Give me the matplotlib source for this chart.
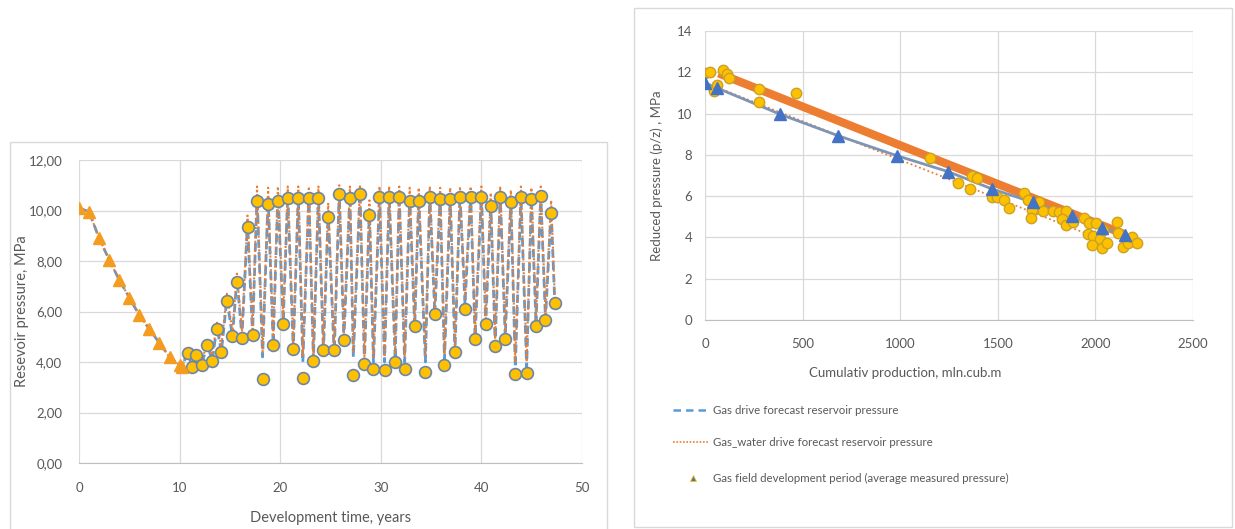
import matplotlib.pyplot as plt
from matplotlib.lines import Line2D
from matplotlib.patches import Rectangle
from matplotlib.ticker import FuncFormatter

plt.rcParams["font.family"] = ["Lato", "DejaVu Sans"]

# ## Data

# left chart: gas field development period (average measured pressure)
dev_years = [0, 1, 2, 3, 4, 5, 6, 7, 8, 9, 10, 10.25]
dev_pressure = [10.1, 9.95, 8.9, 8.05, 7.25, 6.55, 5.85, 5.3, 4.75, 4.2, 3.9, 3.8]

# left chart: measured pressure during storage operation
ugs_years = [
    10.8, 11.2, 11.6, 12.2, 12.75, 13.25, 13.7, 14.15, 14.7, 15.25, 15.7, 16.2,
    16.75, 17.25, 17.7, 18.25, 18.8, 19.3, 19.77, 20.3, 20.75, 21.3, 21.8,
    22.25, 22.85, 23.3, 23.8, 24.3, 24.77, 25.37, 25.87, 26.33, 26.93, 27.27,
    27.93, 28.37, 28.87, 29.27, 29.87, 30.37, 30.83, 31.43, 31.83, 32.37,
    32.87, 33.37, 33.77, 34.43, 34.87, 35.37, 35.9, 36.33, 36.9, 37.37, 37.87,
    38.37, 38.93, 39.37, 40.0, 40.43, 40.93, 41.37, 41.87, 42.37, 42.93,
    43.37, 43.93, 44.5, 44.97, 45.43, 45.9, 46.37, 46.93, 47.3,
]
ugs_pressure = [
    4.37, 3.80, 4.27, 3.87, 4.67, 4.03, 5.31, 4.41, 6.40, 5.02, 7.15, 4.97,
    9.33, 5.07, 10.37, 3.33, 10.24, 4.67, 10.37, 5.52, 10.50, 4.52, 10.50,
    3.38, 10.50, 4.03, 10.50, 4.47, 9.73, 4.47, 10.65, 4.89, 10.48, 3.48,
    10.64, 3.94, 9.82, 3.74, 10.55, 3.70, 10.55, 4.00, 10.55, 3.74,
    10.39, 5.42, 10.39, 3.60, 10.52, 5.89, 10.44, 3.90, 10.44, 4.40, 10.52,
    6.08, 10.52, 4.93, 10.52, 5.52, 10.18, 4.62, 10.52, 4.93, 10.33,
    3.54, 10.52, 3.58, 10.47, 5.43, 10.57, 5.66, 9.89, 6.32,
]

# left chart: forecast curves (same time steps as above)
forecast_years = dev_years + ugs_years
gas_drive = dev_pressure + [
    4.4, 3.85, 4.3, 3.9, 4.7, 4.05, 5.4, 4.4, 6.5, 5.0, 7.3, 5.0,
    9.5, 5.1, 10.6, 4.2, 10.5, 4.7, 10.6, 5.6, 10.6, 4.5, 10.6,
    4.0, 10.6, 4.1, 10.6, 4.4, 9.9, 4.3, 10.7, 4.9, 10.6, 4.2,
    10.7, 4.0, 10.0, 4.0, 10.6, 4.0, 10.6, 4.1, 10.6, 4.0,
    10.5, 5.4, 10.5, 4.0, 10.6, 5.9, 10.5, 4.1, 10.5, 4.4, 10.6,
    6.3, 10.6, 5.0, 10.6, 5.5, 10.3, 4.7, 10.6, 5.0, 10.4,
    3.8, 10.6, 3.8, 10.5, 5.5, 10.6, 5.7, 10.0, 6.3,
]
gas_water_drive = dev_pressure + [
    4.5, 4.0, 4.4, 4.0, 4.8, 4.2, 5.6, 4.6, 6.7, 5.2, 7.5, 5.2,
    9.8, 5.3, 10.95, 4.4, 10.9, 4.9, 10.95, 5.8, 10.95, 4.7, 10.95,
    4.2, 10.95, 4.3, 10.95, 4.6, 10.3, 4.5, 11.0, 5.1, 10.95, 4.4,
    11.0, 4.2, 10.4, 4.2, 10.95, 4.2, 10.95, 4.3, 10.95, 4.2,
    10.9, 5.6, 10.9, 4.2, 10.95, 6.1, 10.9, 4.3, 10.9, 4.6, 10.95,
    6.5, 10.95, 5.2, 10.95, 5.7, 10.7, 4.9, 10.95, 5.2, 10.8,
    4.0, 10.95, 4.0, 10.9, 5.7, 10.95, 5.9, 10.4, 6.5,
]

# right chart: p/z against cumulative production
dev_cum = [0, 61, 384, 681, 983, 1245, 1470, 1680, 1880, 2034, 2152]
dev_pz = [11.48, 11.24, 9.97, 8.93, 7.96, 7.19, 6.35, 5.7, 5.04, 4.44, 4.12]

ugs_cum = [
    0, 26, 47, 64, 90, 113, 124, 277, 277, 465, 1153, 1297, 1357, 1366, 1393,
    1470, 1497, 1532, 1555, 1635, 1655, 1675, 1670, 1711, 1731, 1781, 1814,
    1849, 1829, 1849, 1885, 1942, 1968, 2003, 1963, 1988, 2024, 1983, 2034,
    2058, 2110, 2118, 2142, 2167, 2187, 2213, 2039,
]
ugs_pz = [
    11.96, 12.0, 11.07, 11.4, 12.1, 11.9, 11.7, 11.2, 10.55, 11.0, 7.86, 6.62,
    6.33, 6.98, 6.87, 5.95, 5.95, 5.8, 5.42, 6.14, 5.8, 5.32, 4.93, 5.73, 5.3,
    5.3, 5.25, 5.3, 4.9, 4.6, 4.76, 4.93, 4.68, 4.7, 4.15, 4.07, 3.92, 3.63,
    3.5, 3.75, 4.76, 4.2, 3.53, 3.75, 4.03, 3.75, 4.36,
]

trend_cum = [70, 2150]
trend_pz = [11.95, 4.15]
water_cum = [0, 1990]
water_pz = [11.5, 4.05]

# ## Plot

GREY = "#595959"
GRID = "#d9d9d9"
GOLD = "#ffc000"
EDGE = "#6d86a6"
ORANGE = "#ed7d31"
BLUE = "#5b9bd5"

fig = plt.figure(figsize=(12.35, 5.29), dpi=100)

# chart frames
fig.patches.append(Rectangle((10 / 1235, -0.05), 597 / 1235, 1 - 142 / 529 + 0.05,
                             transform=fig.transFigure, fill=False,
                             edgecolor=GRID, linewidth=1))
fig.patches.append(Rectangle((634 / 1235, 2 / 529), 598 / 1235, 1 - 10 / 529,
                             transform=fig.transFigure, fill=False,
                             edgecolor=GRID, linewidth=1))

ax1 = fig.add_axes([79 / 1235, 1 - 463 / 529, 503 / 1235, 303 / 529])
ax2 = fig.add_axes([705 / 1235, 1 - 320 / 529, 488 / 1235, 289 / 529])

for ax in (ax1, ax2):
    ax.grid(True, color=GRID, linewidth=0.9)
    ax.set_axisbelow(True)
    for side in ("top", "right", "left"):
        ax.spines[side].set_visible(False)
    ax.spines["bottom"].set_color("#bfbfbf")
    ax.tick_params(length=0, colors=GREY, labelsize=9.5)

# left chart
ax1.plot(forecast_years, gas_drive, color=BLUE, linestyle=(0, (3, 1.5)),
         linewidth=2, zorder=2)
ax1.plot(forecast_years, gas_water_drive, color=ORANGE, linestyle=(0, (1, 1.2)),
         linewidth=1.5, zorder=2)
ax1.plot(ugs_years, ugs_pressure, linestyle="none", marker="o", markersize=8.5,
         markerfacecolor=GOLD, markeredgecolor=EDGE, markeredgewidth=1.2,
         zorder=3)
ax1.plot(dev_years, dev_pressure, linestyle="none", marker="^", markersize=8.5,
         markerfacecolor="#f39c1f", markeredgecolor="#f39c1f", zorder=3)

ax1.set_xlim(0, 50)
ax1.set_ylim(0, 12)
ax1.set_xticks(range(0, 51, 10))
ax1.set_yticks(range(0, 13, 2))
ax1.yaxis.set_major_formatter(FuncFormatter(lambda v, p: f"{v:.2f}".replace(".", ",")))
ax1.tick_params(axis="x", pad=14)
ax1.tick_params(axis="y", pad=12)
ax1.set_xlabel("Development time, years", color=GREY, fontsize=10.5)
ax1.set_ylabel("Resevoir pressure, MPa", color=GREY, fontsize=10.5)
ax1.xaxis.set_label_coords(0.5, (463 - 511) / 303, transform=ax1.transAxes)
ax1.yaxis.set_label_coords((29 - 79) / 503, 0.5, transform=ax1.transAxes)

# right chart
ax2.plot(trend_cum, trend_pz, color=ORANGE, linewidth=6, solid_capstyle="butt",
         zorder=2)
ax2.plot(water_cum, water_pz, color=ORANGE, linestyle=(0, (1, 1.5)),
         linewidth=1.3, zorder=2)
ax2.plot(dev_cum, dev_pz, color="#7f95b5", linewidth=2, zorder=2)
ax2.plot(ugs_cum, ugs_pz, linestyle="none", marker="o", markersize=7.5,
         markerfacecolor=GOLD, markeredgecolor="#c9a227", markeredgewidth=1,
         zorder=3)
ax2.plot(dev_cum, dev_pz, linestyle="none", marker="^", markersize=8,
         markerfacecolor="#4472c4", markeredgecolor="#4472c4", zorder=4)

ax2.set_xlim(0, 2500)
ax2.set_ylim(0, 14)
ax2.set_xticks(range(0, 2501, 500))
ax2.set_yticks(range(0, 15, 2))
ax2.tick_params(axis="x", pad=13)
ax2.tick_params(axis="y", pad=9)
ax2.set_ylabel("Reduced pressure (p/z) , MPa", color=GREY, fontsize=9.5)
ax2.yaxis.set_label_coords((663 - 705) / 488, 0.5, transform=ax2.transAxes)
fig.text(905 / 1235, 1 - 373 / 529, "Cumulativ production, mln.cub.m",
         color=GREY, fontsize=9.5, ha="center", va="center")

# legend below the right chart
legend_rows = [
    (410, "Gas drive forecast reservoir pressure"),
    (442, "Gas_water drive forecast reservoir pressure"),
    (478, "Gas field development period (average measured pressure)"),
]
fig.add_artist(Line2D([673 / 1235, 708 / 1235], [1 - 410 / 529] * 2,
                      transform=fig.transFigure, color=BLUE, linewidth=1.8,
                      linestyle=(0, (3, 2))))
fig.add_artist(Line2D([673 / 1235, 708 / 1235], [1 - 442 / 529] * 2,
                      transform=fig.transFigure, color=ORANGE, linewidth=1.2,
                      linestyle=(0, (1, 1))))
fig.add_artist(Line2D([693 / 1235], [1 - 478 / 529],
                      transform=fig.transFigure, linestyle="none", marker="^",
                      markersize=5, markerfacecolor="#4472c4",
                      markeredgecolor=GOLD, markeredgewidth=0.6))
for y, label in legend_rows:
    fig.text(713 / 1235, 1 - y / 529, label, color=GREY, fontsize=8.3,
             ha="left", va="center")

fig.savefig("out.png", dpi=100)
